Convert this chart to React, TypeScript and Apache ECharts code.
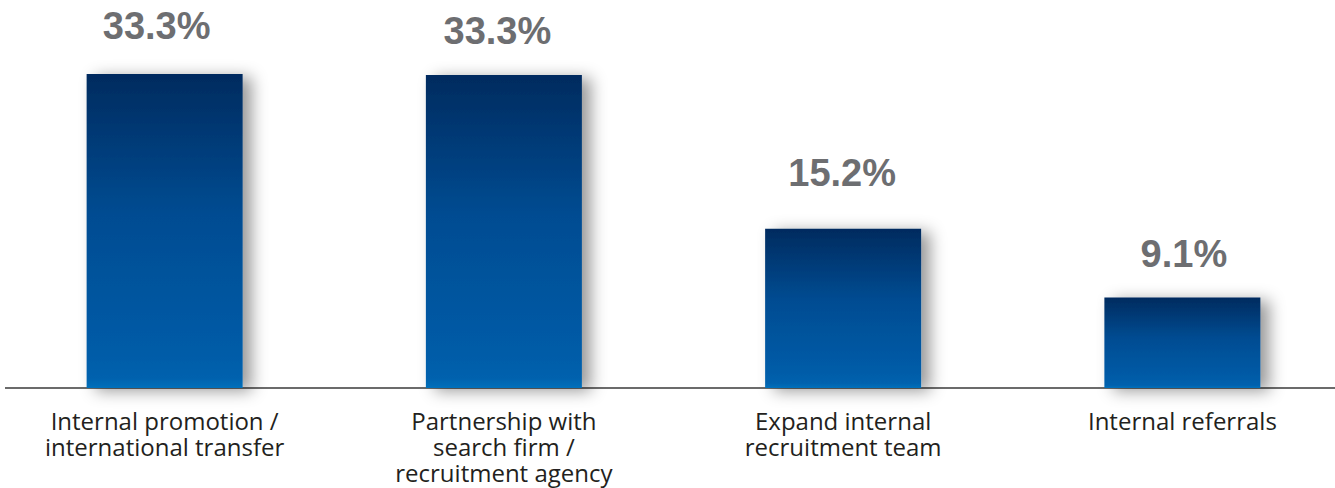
import React, { useEffect, useRef } from "react";
import * as echarts from "echarts";

const categories = [
  "Internal promotion /\ninternational transfer",
  "Partnership with\nsearch firm /\nrecruitment agency",
  "Expand internal\nrecruitment team",
  "Internal referrals",
];
// percentages printed above the bars
const shares = [33.3, 33.3, 15.2, 9.1];
// drawn bar lengths (same units as the axis)
const barLengths = [33.3, 33.2, 16.9, 9.6];

const SHIFT = 5;

export default function App() {
  const ref = useRef<HTMLDivElement>(null);
  useEffect(() => {
    if (!ref.current) return;
    const chart = echarts.init(ref.current, null, { renderer: "svg" });
    // per-label placement tweaks (style only)
    const labelPlacement = [
      { distance: 28.5, dx: -8 },
      { distance: 24.5, dx: -6.5 },
      { distance: 37, dx: -1 },
      { distance: 24.5, dx: 1.5 },
    ];
    chart.setOption({
      animation: false,
      grid: { left: 0, right: 0, top: 10.8, bottom: 100, containLabel: false },
      xAxis: {
        type: "category",
        data: categories,
        axisLine: { show: false },
        axisTick: { show: false },
        axisLabel: {
          interval: 0,
          margin: 19,
          color: "#231f20",
          fontFamily: "Open Sans",
          fontSize: 24,
          lineHeight: 26,
          align: "center",
        },
      },
      yAxis: {
        type: "value",
        min: 0,
        max: 40,
        show: false,
        splitLine: { show: false },
      },
      graphic: [
        {
          type: "line",
          z: 0,
          shape: { x1: 5 + SHIFT, y1: 388, x2: 1335 + SHIFT, y2: 388 },
          style: { stroke: "#3a3a3a", lineWidth: 1.5 },
        },
      ],
      series: [
        {
          type: "bar",
          data: barLengths.map((v, i) => ({
            value: v,
            label: {
              distance: labelPlacement[i].distance,
              offset: [labelPlacement[i].dx, 0],
            },
          })),
          barWidth: 156,
          z: 5,
          itemStyle: {
            color: new echarts.graphic.LinearGradient(0, 0, 0, 1, [
              { offset: 0, color: "#022b5f" },
              { offset: 0.45, color: "#014c92" },
              { offset: 0.9, color: "#015ca8" },
              { offset: 0.97, color: "#0262ae" },
              { offset: 1, color: "#0070bb" },
            ]),
            shadowColor: "rgba(0,0,0,0.4)",
            shadowBlur: 16,
            shadowOffsetX: 9,
            shadowOffsetY: 3,
          },
          label: {
            show: true,
            position: "top",
            distance: 27,
            color: "#6d6e71",
            fontFamily: "Liberation Sans, Arial, sans-serif",
            fontWeight: "bold",
            fontSize: 38,
            formatter: (p: any) => shares[p.dataIndex].toFixed(1) + "%",
          },
        },
      ],
    });
    return () => chart.dispose();
  }, []);
  return (
    <div style={{ position: "fixed", left: 0, top: 0, width: 1335, height: 488, overflow: "hidden", background: "#fff" }}>
      <div
        ref={ref}
        style={{ position: "absolute", left: -SHIFT, top: 0, width: 1357, height: 488 }}
      />
    </div>
  );
}
